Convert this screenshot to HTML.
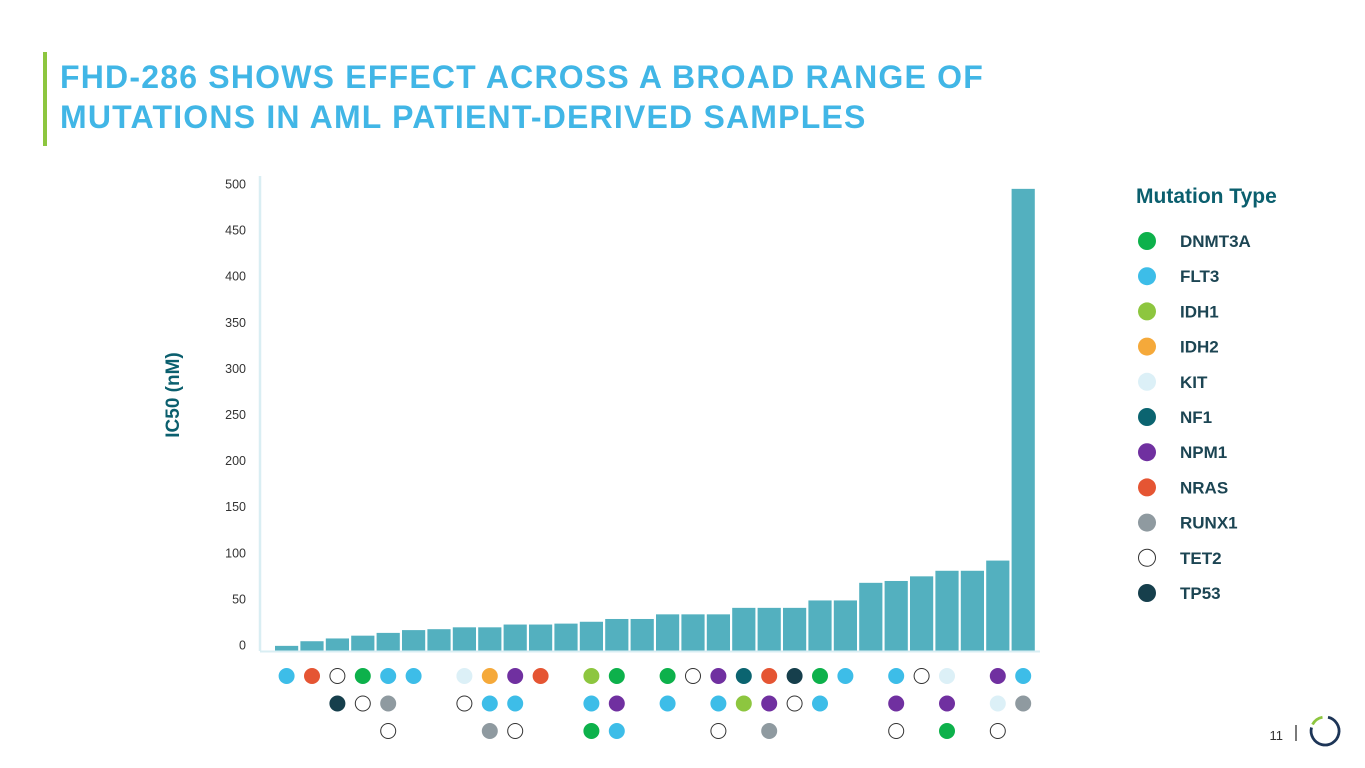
<!DOCTYPE html>
<html><head><meta charset="utf-8"><style>
html,body{margin:0;padding:0;background:#fff;}
body{width:1365px;height:768px;position:relative;overflow:hidden;font-family:"Liberation Sans",sans-serif;}
.title{position:absolute;left:60px;top:57px;color:#41b6e6;font-weight:bold;font-size:32px;line-height:40px;letter-spacing:1.2px;white-space:nowrap;}
.accent{position:absolute;left:43px;top:52px;width:4px;height:94px;background:#8dc63f;}
</style></head><body>
<div class="accent"></div>
<div class="title">FHD-286 SHOWS EFFECT ACROSS A BROAD RANGE OF<br>MUTATIONS IN AML PATIENT-DERIVED SAMPLES</div>
<svg id="chart" width="1365" height="768" style="position:absolute;left:0;top:0"></svg>
<script>
const values=[5,10,13,16,19,22,23,25,25,28,28,29,31,34,34,39,39,39,46,46,46,54,54,73,75,80,86,86,97,498];
const ticks=[0,50,100,150,200,250,300,350,400,450,500];
const mutTypes=["DNMT3A","FLT3","IDH1","IDH2","KIT","NF1","NPM1","NRAS","RUNX1","TET2","TP53"];
const mutColors=["#0db14b","#3dbde8","#8dc63f","#f5a93a","#dcf0f7","#0b6470","#7030a0","#e55533","#8f9aa0","#ffffff","#163f4c"];
const row1=["FLT3","NRAS","TET2","DNMT3A","FLT3","FLT3",null,"KIT","IDH2","NPM1","NRAS",null,"IDH1","DNMT3A",null,"DNMT3A","TET2","NPM1","NF1","NRAS","TP53","DNMT3A","FLT3",null,"FLT3","TET2","KIT",null,"NPM1","FLT3"];
const row2=[null,null,"TP53","TET2","RUNX1",null,null,"TET2","FLT3","FLT3",null,null,"FLT3","NPM1",null,"FLT3",null,"FLT3","IDH1","NPM1","TET2","FLT3",null,null,"NPM1",null,"NPM1",null,"KIT","RUNX1"];
const row3=[null,null,null,null,"TET2",null,null,null,"RUNX1","TET2",null,null,"DNMT3A","FLT3",null,null,null,"TET2",null,"RUNX1",null,null,null,null,"TET2",null,"DNMT3A",null,"TET2",null];

const NS="http://www.w3.org/2000/svg";
const svg=document.getElementById('chart');
function mk(tag,attrs,parent){const e=document.createElementNS(NS,tag);for(const k in attrs)e.setAttribute(k,attrs[k]);(parent||svg).appendChild(e);return e;}
const x0=275,pitch=25.4,bw=23.2,base=650.5,k=0.927;
const xs=i=>x0+i*pitch;
const ys=v=>base-v*k;
const lab=v=>645-v*0.922;

let e=mk('line',{x1:260,y1:176,x2:260,y2:651,stroke:'#d9eef3','stroke-width':2.5});


e=mk('line',{x1:260,y1:651.5,x2:1040,y2:651.5,stroke:'#d9eef3','stroke-width':2});


ticks.forEach(t=>{
  const tx=mk('text',{x:246,y:lab(t)+4.5,'text-anchor':'end','font-size':12.5,fill:'#333','font-family':'Liberation Sans, sans-serif'});
  tx.textContent=t;
  
  
});
const yt=mk('text',{x:0,y:0,transform:'translate(179,395) rotate(-90)','text-anchor':'middle','font-size':19,'font-weight':'bold',fill:'#0b5f6e','font-family':'Liberation Sans, sans-serif'});
yt.textContent='IC50 (nM)';



values.forEach((v,i)=>{
  const r=mk('rect',{x:xs(i),y:ys(v),width:bw,height:base-ys(v),fill:'#53b0bf'});
  
  
});
[row1,row2,row3].forEach((row,ri)=>{
  row.forEach((m,i)=>{
    if(!m)return;
    const c=mutColors[mutTypes.indexOf(m)];
    const d=mk('circle',{cx:xs(i)+bw/2,cy:676+ri*27.5,r:m==='TET2'?7.5:8,fill:c,stroke:m==='TET2'?'#333':'none','stroke-width':1});
    
    
  });
});
const lt=mk('text',{x:1136,y:203,'font-size':21,'font-weight':'bold',fill:'#0b5f6e','font-family':'Liberation Sans, sans-serif'});
lt.textContent='Mutation Type';


mutTypes.forEach((m,i)=>{
  const y=241+i*35.2;
  const g=mk('g',{});
  
  
  mk('circle',{cx:1147,cy:y,r:m==='TET2'?8.5:9,fill:mutColors[i],stroke:m==='TET2'?'#333':'none','stroke-width':1},g);
  const t=mk('text',{x:1180,y:y+6,'font-size':17,'font-weight':'bold',fill:'#1c4553','font-family':'Liberation Sans, sans-serif'},g);
  t.textContent=m;
});
const pn=mk('text',{x:1283,y:740,'text-anchor':'end','font-size':13,fill:'#333','font-family':'Liberation Sans, sans-serif'});
pn.textContent='11';


e=mk('line',{x1:1296,y1:725,x2:1296,y2:741,stroke:'#333','stroke-width':1.3});


const logo=mk('g',{});


mk('path',{d:'M1328,717.3 A14,14 0 1 1 1311.5,727.5',fill:'none',stroke:'#1d3557','stroke-width':2.8},logo);
mk('path',{d:'M1312.5,724.5 A14,14 0 0 1 1322.5,717.2',fill:'none',stroke:'#8dc63f','stroke-width':2.8},logo);
</script>
</body></html>
